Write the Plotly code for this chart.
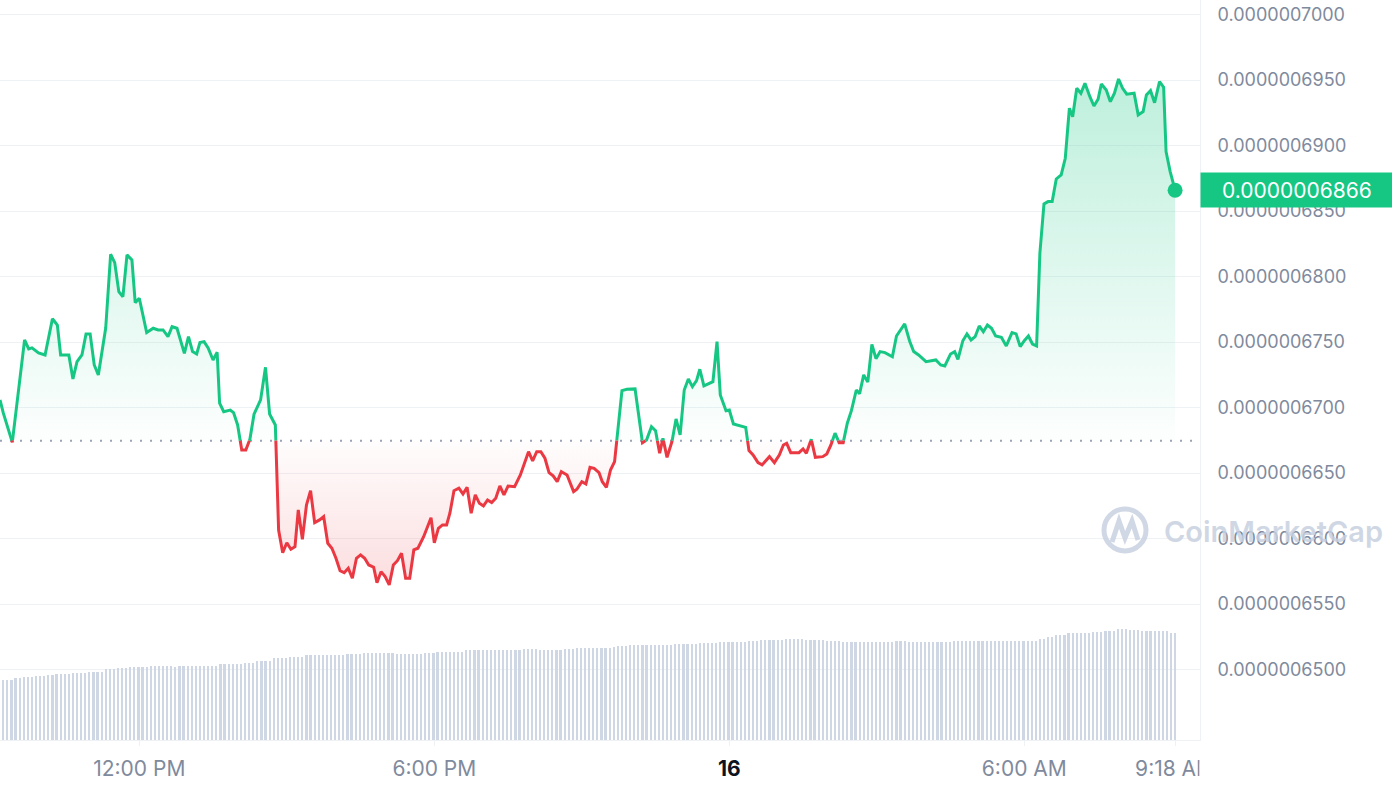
import numpy as np
import pandas as pd
import plotly.graph_objects as go

# ---------------- data ----------------
START = pd.Timestamp("2024-06-15 09:10:00")          # left edge of the window
WINDOW_END = START + pd.Timedelta(minutes=1464.4)    # right edge of the window

# minutes after START for each price sample
price_minutes = [
    0, 4, 15, 30, 35, 39, 47, 55, 64, 70, 74, 84, 89, 94, 100, 105, 110, 115, 120, 129,
    135, 140, 145, 150, 155, 161, 165, 170, 179, 187, 193, 199, 205, 210, 216, 225, 230, 235, 240, 244,
    249, 254, 260, 265, 268, 273, 281, 285, 290, 295, 300, 305, 310, 318, 324, 329, 336, 340, 345, 350,
    355, 360, 364, 369, 374, 379, 384, 390, 395, 400, 405, 410, 415, 420, 425, 430, 435, 440, 445, 450,
    456, 460, 465, 470, 475, 480, 485, 490, 495, 500, 505, 510, 517, 526, 530, 535, 540, 545, 549, 554,
    560, 565, 570, 575, 580, 585, 590, 595, 600, 605, 610, 615, 620, 628, 635, 645, 650, 655, 660, 665,
    670, 675, 680, 685, 692, 700, 704, 710, 715, 720, 725, 731, 735, 740, 745, 750, 759, 765, 775, 784,
    789, 795, 800, 805, 809, 814, 820, 825, 830, 835, 840, 845, 850, 854, 859, 870, 875, 879, 886, 890,
    895, 900, 905, 910, 914, 919, 925, 930, 939, 945, 951, 956, 960, 965, 975, 980, 984, 990, 995, 1004,
    1009, 1014, 1019, 1024, 1029, 1034, 1039, 1045, 1049, 1054, 1059, 1064, 1069, 1074, 1080, 1089, 1094, 1100, 1104, 1110,
    1115, 1121, 1130, 1142, 1148, 1153, 1160, 1165, 1169, 1175, 1180, 1185, 1190, 1195, 1200, 1205, 1210, 1215, 1222, 1228,
    1235, 1240, 1245, 1250, 1255, 1260, 1265, 1269, 1274, 1279, 1284, 1289, 1295, 1300, 1305, 1309, 1314, 1319, 1324, 1330,
    1335, 1340, 1344, 1350, 1355, 1360, 1365, 1370, 1375, 1384, 1389, 1395, 1399, 1404, 1409, 1415, 1420, 1423, 1428, 1434,
]

# price in units of 1e-10 USD
price_e10 = [
    6705.9, 6696.0, 6673.5, 6751.7, 6744.8, 6745.6, 6741.8, 6740.2, 6767.9, 6763.1, 6740.2, 6740.2, 6721.9, 6735.1, 6740.2, 6756.3, 6756.3, 6732.6, 6725.0, 6760.8,
    6817.1, 6810.7, 6788.6, 6784.7, 6816.6, 6812.8, 6780.2, 6783.5, 6757.3, 6760.6, 6759.3, 6759.3, 6754.2, 6761.8, 6760.6, 6741.5, 6754.2, 6742.8, 6741.0, 6749.8,
    6750.4, 6745.6, 6736.4, 6742.3, 6703.4, 6696.9, 6698.2, 6696.2, 6686.8, 6667.7, 6667.7, 6676.0, 6695.0, 6705.9, 6730.8, 6695.2, 6686.8, 6606.6, 6589.3, 6596.9,
    6591.9, 6593.9, 6621.9, 6599.5, 6625.7, 6636.6, 6612.2, 6614.3, 6616.8, 6596.5, 6592.7, 6585.0, 6575.6, 6574.0, 6577.4, 6569.8, 6585.0, 6587.6, 6585.0, 6579.9,
    6578.2, 6566.4, 6574.8, 6571.0, 6564.7, 6579.9, 6583.2, 6588.9, 6569.8, 6569.8, 6591.4, 6592.7, 6601.5, 6616.0, 6596.9, 6607.9, 6610.5, 6610.5, 6619.4, 6636.6,
    6638.5, 6634.1, 6639.2, 6619.4, 6633.4, 6627.0, 6625.0, 6629.5, 6627.5, 6630.8, 6640.2, 6633.4, 6640.2, 6639.7, 6648.6, 6666.4, 6659.3, 6666.4, 6666.4, 6661.4,
    6650.4, 6647.9, 6643.5, 6651.1, 6648.6, 6635.9, 6637.7, 6643.5, 6641.8, 6654.5, 6653.7, 6650.4, 6643.5, 6639.2, 6652.4, 6658.8, 6713.0, 6714.0, 6714.3, 6673.3,
    6675.3, 6685.5, 6682.4, 6665.2, 6676.6, 6662.1, 6674.0, 6691.4, 6679.2, 6713.5, 6721.9, 6716.0, 6720.6, 6729.3, 6716.6, 6719.8, 6750.4, 6709.7, 6697.7, 6698.2,
    6687.6, 6686.8, 6685.5, 6685.0, 6667.2, 6663.9, 6658.0, 6656.3, 6662.6, 6658.0, 6663.9, 6671.5, 6672.8, 6665.6, 6665.6, 6668.5, 6665.2, 6675.9, 6662.1, 6662.6,
    6664.7, 6671.5, 6680.5, 6673.3, 6673.3, 6688.1, 6697.7, 6713.5, 6710.7, 6725.0, 6719.5, 6748.2, 6737.4, 6742.8, 6742.0, 6738.9, 6754.7, 6760.6, 6763.9, 6750.9,
    6742.8, 6740.2, 6735.1, 6736.4, 6732.6, 6731.8, 6741.0, 6742.8, 6736.9, 6751.1, 6756.3, 6751.7, 6754.2, 6762.4, 6758.0, 6763.1, 6760.6, 6754.7, 6753.7, 6747.1,
    6757.3, 6756.3, 6746.6, 6751.1, 6754.7, 6748.6, 6747.1, 6817.9, 6855.5, 6857.3, 6857.3, 6874.6, 6877.7, 6890.4, 6928.6, 6922.1, 6943.8, 6940.0, 6947.6, 6937.4,
    6930.3, 6935.4, 6947.1, 6942.5, 6933.6, 6940.0, 6950.9, 6943.8, 6939.3, 6940.0, 6923.5, 6926.0, 6938.7, 6942.0, 6932.8, 6948.9, 6944.6, 6895.4, 6880.2, 6866.0,
]

base_price_e10 = 6674.8          # reference (open) price, dotted line
last_price_label = "0.0000006866"

# 5-minute volume bars (relative units), first bar at 09:09
volume_start = pd.Timestamp("2024-06-15 09:09:00")
volume = [
    6.05, 6.05, 6.05, 6.05, 6.23, 6.23, 6.33, 6.33, 6.33, 6.40, 6.40, 6.40, 6.50, 6.50,
    6.60, 6.60, 6.60, 6.60, 6.70, 6.70, 6.70, 6.70, 6.80, 6.80, 6.80, 6.80,
    7.07, 7.07, 7.07, 7.17, 7.17, 7.17, 7.27, 7.27, 7.27, 7.27, 7.27,
    7.37, 7.37, 7.37, 7.37, 7.37, 7.37, 7.27,
    7.37, 7.37, 7.37, 7.37, 7.37, 7.37, 7.37, 7.37, 7.37, 7.37,
    7.57, 7.57, 7.57, 7.57, 7.57, 7.57, 7.73, 7.73, 7.73, 7.90, 7.90, 7.90, 7.90,
    8.17, 8.17, 8.17, 8.17, 8.33, 8.33, 8.33, 8.33,
    8.50, 8.50, 8.50, 8.50, 8.50, 8.50, 8.50, 8.50, 8.50, 8.50,
    8.60, 8.60, 8.60, 8.60, 8.70, 8.70, 8.70, 8.70, 8.70, 8.70, 8.70, 8.70,
    8.60, 8.60, 8.60, 8.60, 8.60, 8.60, 8.60, 8.70, 8.70, 8.70,
    8.77, 8.77, 8.77, 8.77, 8.77, 8.77, 8.77,
    9.00, 9.00, 9.00, 9.00, 9.00, 9.00, 9.00, 9.00, 9.00, 9.00, 9.00, 9.00, 9.00, 9.00,
    9.10, 9.10, 9.10, 9.10, 9.00, 9.00, 9.00, 9.00, 9.00, 9.00, 9.10, 9.10, 9.10,
    9.20, 9.20, 9.20, 9.20, 9.20, 9.20, 9.20, 9.20, 9.20, 9.30, 9.40, 9.40, 9.40,
    9.50, 9.50, 9.50, 9.50, 9.50, 9.50, 9.50, 9.50, 9.50, 9.50, 9.50,
    9.60, 9.60, 9.60, 9.60, 9.60, 9.60, 9.70, 9.70, 9.70, 9.70, 9.70,
    9.80, 9.80, 9.80, 9.80, 9.80, 9.80, 9.80, 9.90, 9.90, 9.90,
    10.00, 10.00, 10.00, 10.00, 10.00, 10.00, 10.10, 10.10, 10.10, 10.10, 10.10,
    10.00, 10.00, 10.00, 10.00, 10.00, 9.90, 9.90, 9.90, 9.90,
    9.80, 9.80, 9.80, 9.80, 9.80, 9.80, 9.80, 9.80, 9.80, 9.80, 9.80, 9.80, 9.80,
    9.90, 9.90, 9.90,
    9.80, 9.80, 9.80, 9.80, 9.80, 9.80, 9.80, 9.80, 9.80, 9.80, 9.80,
    9.90, 9.90, 9.90, 9.90, 9.90, 9.90, 9.90, 9.90, 9.90, 9.90, 9.90,
    9.90, 9.90, 9.90, 9.90, 9.90, 9.90, 9.90, 9.90, 9.90, 9.90,
    10.10, 10.10, 10.33, 10.33, 10.50, 10.50, 10.50,
    10.67, 10.67, 10.67, 10.67, 10.67, 10.67, 10.83, 10.83, 10.83,
    10.93, 10.93, 10.93, 11.07, 11.07, 11.07, 11.00, 11.00, 11.00,
    10.90, 10.90, 10.90, 10.90, 10.90, 10.90, 10.90, 10.67, 10.67,
]

y_tick_e10 = [6500, 6550, 6600, 6650, 6700, 6750, 6800, 6850, 6900, 6950, 7000]
x_tick_times = ["2024-06-15 12:00", "2024-06-15 18:00", "2024-06-16 00:00",
                "2024-06-16 06:00", "2024-06-16 09:04"]
x_tick_labels = ["12:00 PM", "6:00 PM", "<span style='color:#0d1421'><b>16</b></span>",
                 "6:00 AM", "9:18 AM"]

# ---------------- styles ----------------
GREEN = "#16c784"
RED = "#ea3943"
GRID = "#eff2f5"
LABEL = "#808a9d"
FONT = "Inter"
SCALE = 1e-10

# ---------------- processing ----------------
t = np.array(price_minutes, float)
p = np.array(price_e10, float)
base = base_price_e10
tt, pp = [t[0]], [p[0]]
for i in range(1, len(p)):
    a, b = p[i - 1] - base, p[i] - base
    if a * b < 0:
        f = a / (a - b)
        tt.append(t[i - 1] + f * (t[i] - t[i - 1]))
        pp.append(base)
    tt.append(t[i])
    pp.append(p[i])
tt = np.array(tt)
pp = np.array(pp)
times = START + pd.to_timedelta(tt, unit="min")

green_y = np.where(pp >= base, pp, np.nan) * SCALE
red_y = np.where(pp <= base, pp, np.nan) * SCALE
upper = np.maximum(pp, base) * SCALE
lower = np.minimum(pp, base) * SCALE
base_line = np.full(len(pp), base * SCALE)

vol_times = pd.date_range(volume_start, periods=len(volume), freq="5min")

fig = go.Figure()

# volume bars
fig.add_trace(go.Bar(x=vol_times, y=volume, yaxis="y2", marker_color="#cfd6e4",
                     marker_line_width=0, width=160000, hoverinfo="skip"))

# fills
fig.add_trace(go.Scatter(x=times, y=base_line, mode="lines", line=dict(width=0),
                         hoverinfo="skip", showlegend=False))
fig.add_trace(go.Scatter(
    x=times, y=upper, mode="lines", line=dict(width=0), fill="tonexty",
    fillgradient=dict(type="vertical", start=base * SCALE, stop=6950 * SCALE,
                      colorscale=[[0, "rgba(22,199,132,0.01)"], [1, "rgba(22,199,132,0.28)"]]),
    hoverinfo="skip", showlegend=False))
fig.add_trace(go.Scatter(x=times, y=base_line, mode="lines", line=dict(width=0),
                         hoverinfo="skip", showlegend=False))
fig.add_trace(go.Scatter(
    x=times, y=lower, mode="lines", line=dict(width=0), fill="tonexty",
    fillgradient=dict(type="vertical", start=6565 * SCALE, stop=base * SCALE,
                      colorscale=[[0, "rgba(234,57,67,0.17)"], [1, "rgba(234,57,67,0.01)"]]),
    hoverinfo="skip", showlegend=False))

# price lines
fig.add_trace(go.Scatter(x=times, y=green_y, mode="lines",
                         line=dict(color=GREEN, width=3), connectgaps=False, showlegend=False))
fig.add_trace(go.Scatter(x=times, y=red_y, mode="lines",
                         line=dict(color=RED, width=3), connectgaps=False, showlegend=False))
# last point
fig.add_trace(go.Scatter(x=[times[-1]], y=[pp[-1] * SCALE], mode="markers",
                         marker=dict(color=GREEN, size=15), showlegend=False))

# dotted reference line
fig.add_hline(y=base * SCALE, line=dict(color="#9aa3b5", width=2, dash="2px,8px"), layer="below")

W, H = 1200.0, 740.0
def px(x):
    return x / W
def py(y):
    return (H - y) / H

# current price tag
fig.add_annotation(xref="paper", yref="y", x=1, y=pp[-1] * SCALE, xanchor="left", yanchor="middle",
                   text=last_price_label, showarrow=False, bgcolor=GREEN, width=184, height=26,
                   borderpad=4, align="center", font=dict(family=FONT, size=21, color="white"))

# watermark
WM = "rgba(200,208,224,0.85)"
fig.add_annotation(xref="paper", yref="paper", x=px(1162), y=py(531), xanchor="left", yanchor="middle",
                   text="CoinMarketCap", showarrow=False,
                   font=dict(family=FONT, size=29, color=WM, weight=600))
fig.add_shape(type="circle", xref="paper", yref="paper", x0=px(1104), x1=px(1146),
              y0=py(551), y1=py(509), line=dict(color=WM, width=5), layer="above")
fig.add_shape(type="path", xref="paper", yref="paper",
              path=f"M {px(1112)} {py(542)} L {px(1119)} {py(521)} L {px(1125)} {py(538)} "
                   f"L {px(1132)} {py(521)} L {px(1138)} {py(540)}",
              line=dict(color=WM, width=5), layer="above")

# hide overflow of last x label
fig.add_shape(type="rect", xref="paper", yref="paper", x0=0.9995, x1=1.2, y0=-0.075, y1=-0.012,
              fillcolor="white", line=dict(width=0), layer="above")

fig.update_layout(
    width=1392, height=792,
    margin=dict(l=0, r=192, t=0, b=52),
    paper_bgcolor="white", plot_bgcolor="white",
    showlegend=False, bargap=0,
    font=dict(family=FONT, size=18, color=LABEL),
    xaxis=dict(type="date", range=[START, WINDOW_END], tickvals=x_tick_times, ticktext=x_tick_labels,
               showgrid=False, zeroline=False, showline=True, linecolor=GRID, linewidth=1,
               ticks="outside", ticklen=5, tickcolor=GRID, ticklabelstandoff=5,
               tickfont=dict(family=FONT, size=21, color=LABEL)),
    yaxis=dict(side="right", range=[6446.3 * SCALE, 7011.2 * SCALE],
               tickvals=[v * SCALE for v in y_tick_e10], tickformat=".10f",
               showgrid=True, gridcolor=GRID, gridwidth=1, zeroline=False,
               showline=True, linecolor=GRID, linewidth=1, ticks="", ticklabelstandoff=13,
               tickfont=dict(family=FONT, size=18, color=LABEL)),
    yaxis2=dict(overlaying="y", range=[0, 74], visible=False, showgrid=False),
)

fig.write_html("out.html")
